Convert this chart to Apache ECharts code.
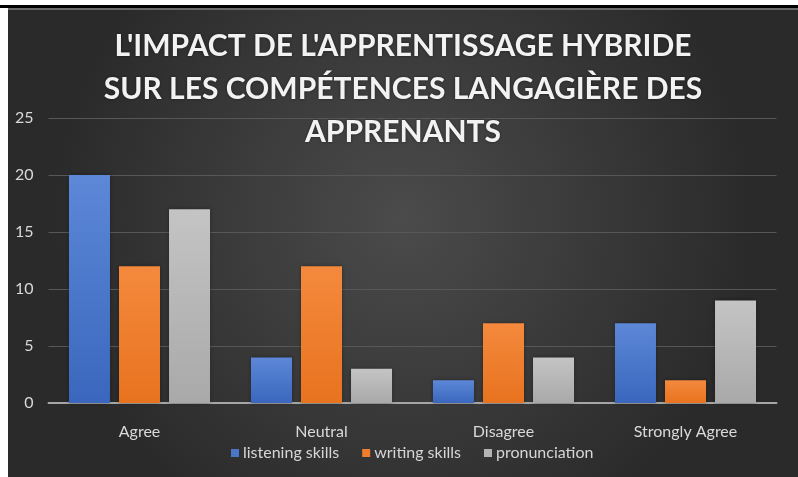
<!DOCTYPE html>
<html>
<head>
<meta charset="utf-8">
<script src="https://cdn.jsdelivr.net/npm/echarts@6/dist/echarts.min.js"></script>
<style>
html,body{margin:0;padding:0;background:#fff;width:798px;height:477px;overflow:hidden;}
#topline{position:absolute;left:0;top:5px;width:798px;height:3px;background:#000;}
#chart{position:absolute;left:8px;top:8px;width:790px;height:469px;}
</style>
</head>
<body>
<div id="topline"></div>
<div id="chart"></div>
<script>
const titleText = "L'IMPACT DE L'APPRENTISSAGE HYBRIDE\nSUR LES COMPÉTENCES LANGAGIÈRE DES\nAPPRENANTS";
const categories = ["Agree", "Neutral", "Disagree", "Strongly Agree"];
const seriesNames = ["listening skills", "writing skills", "pronunciation"];
const listening = [20, 4, 2, 7];
const writing = [12, 12, 7, 2];
const pronunciation = [17, 3, 4, 9];
const yTicks = [0, 5, 10, 15, 20, 25];

function grad(top, bottom) {
  return new echarts.graphic.LinearGradient(0, 0, 0, 1, [
    {offset: 0, color: top}, {offset: 1, color: bottom}
  ]);
}
const colors = [
  grad('#5d88d8', '#3a67bd'),
  grad('#f4893d', '#e8731f'),
  grad('#c4c4c4', '#a9a9a9')
];
const legendColors = ['#4a76c8', '#ef7d2c', '#b3b3b3'];

const chart = echarts.init(document.getElementById('chart'), null, {renderer: 'canvas'});
const font = 'Lato, "Open Sans", sans-serif';
const values = [listening, writing, pronunciation];
chart.setOption({
  backgroundColor: new echarts.graphic.RadialGradient(0.5, 0.45, 0.75, [
    {offset: 0, color: '#4b4b4b'}, {offset: 1, color: '#2a2a2a'}
  ]),
  animation: false,
  graphic: [{
    type: 'rect', left: 0, top: 0, shape: {width: 790, height: 2},
    style: {fill: '#6a6a6a'}
  }],
  title: {
    text: titleText,
    left: 'center',
    top: 12,
    textStyle: {
      color: '#f2f2f2', fontFamily: font, fontWeight: 'bold', fontSize: 30,
      lineHeight: 43, textShadowColor: 'rgba(0,0,0,0.5)', textShadowBlur: 3
    }
  },
  legend: {
    data: seriesNames.map((n, i) => ({name: n, itemStyle: {color: legendColors[i]}})),
    bottom: 11,
    left: 218,
    itemWidth: 8, itemHeight: 8, itemGap: 23,
    icon: 'rect',
    textStyle: {color: '#d6d6d6', fontFamily: font, fontSize: 16, padding: [0, 0, 0, -1]}
  },
  grid: {left: 40.5, right: 21.5, top: 110, bottom: 74, containLabel: false},
  xAxis: {
    type: 'category',
    data: categories,
    axisLine: {lineStyle: {color: '#a6a6a6', width: 2}},
    axisTick: {show: false},
    axisLabel: {color: '#d9d9d9', fontFamily: font, fontSize: 16, margin: 21}
  },
  yAxis: {
    type: 'value', min: yTicks[0], max: yTicks[yTicks.length - 1], interval: 5,
    axisLine: {show: false}, axisTick: {show: false},
    axisLabel: {color: '#d9d9d9', fontFamily: font, fontSize: 16, margin: 15},
    splitLine: {lineStyle: {color: '#575757', width: 1}}
  },
  series: seriesNames.map((n, i) => ({
    name: n, type: 'bar', data: values[i],
    barGap: '22%', barCategoryGap: '22.5%',
    itemStyle: {color: colors[i], shadowColor: 'rgba(0,0,0,0.35)', shadowBlur: 4}
  }))
});
</script>
</body>
</html>
